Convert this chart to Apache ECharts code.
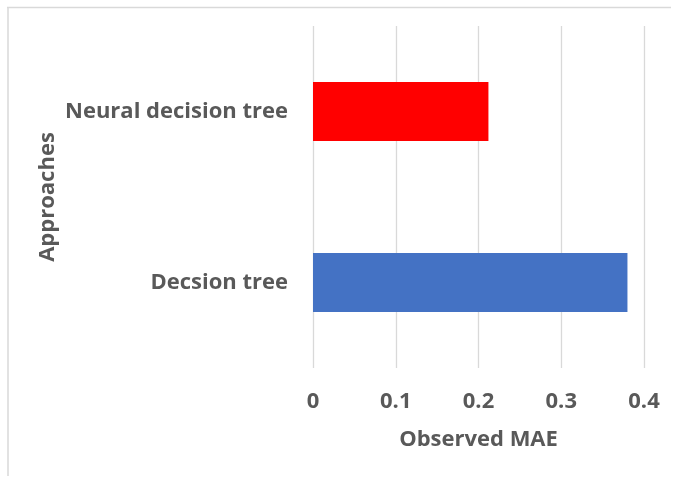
<!DOCTYPE html>
<html>
<head>
<meta charset="utf-8">
<script src="https://cdn.jsdelivr.net/npm/echarts@6/dist/echarts.min.js"></script>
<style>
html,body{margin:0;padding:0;background:#fff;}
#chart{width:673px;height:477px;}
</style>
</head>
<body>
<div id="chart"></div>
<script>
var categories = ['Decsion tree', 'Neural decision tree'];
var maeValues = [0.380, 0.212];
var barColors = ['#4472C4', '#FF0000'];
var xTicks = [0, 0.1, 0.2, 0.3, 0.4];

var chart = echarts.init(document.getElementById('chart'));
var font = 'Open Sans';
chart.setOption({
  animation: false,
  backgroundColor: '#ffffff',
  graphic: [
    {type: 'line', shape: {x1: 7, y1: 7.5, x2: 671, y2: 7.5}, style: {stroke: '#d9d9d9', lineWidth: 1.5}},
    {type: 'line', shape: {x1: 8, y1: 7, x2: 8, y2: 476}, style: {stroke: '#d9d9d9', lineWidth: 1.5}}
  ],
  grid: {left: 313, right: 29, top: 26, bottom: 109, containLabel: false},
  xAxis: {
    type: 'value',
    min: 0, max: 0.4, interval: 0.1,
    name: 'Observed MAE',
    nameLocation: 'middle',
    nameGap: 61,
    nameTextStyle: {color: '#595959', fontSize: 22, fontFamily: font, fontWeight: 'bold'},
    axisLine: {show: false},
    axisTick: {show: false},
    axisLabel: {
      color: '#595959', fontSize: 22, fontFamily: font, fontWeight: 'bold', margin: 23,
      formatter: function (v) { var t = xTicks.find(function (x) { return Math.abs(x - v) < 1e-9; }); return t === undefined ? '' : String(t); }
    },
    splitLine: {show: true, lineStyle: {color: '#d9d9d9', width: 1.3}}
  },
  yAxis: {
    type: 'category',
    data: categories,
    name: 'Approaches',
    nameLocation: 'middle',
    nameGap: 254,
    nameTextStyle: {color: '#595959', fontSize: 22, fontFamily: font, fontWeight: 'bold'},
    axisLine: {show: false},
    axisTick: {show: false},
    axisLabel: {color: '#595959', fontSize: 22, fontFamily: font, fontWeight: 'bold', margin: 25}
  },
  series: [{
    type: 'bar',
    data: maeValues.map(function (v, i) { return {value: v, itemStyle: {color: barColors[i]}}; }),
    barWidth: 59
  }]
});
</script>
</body>
</html>
